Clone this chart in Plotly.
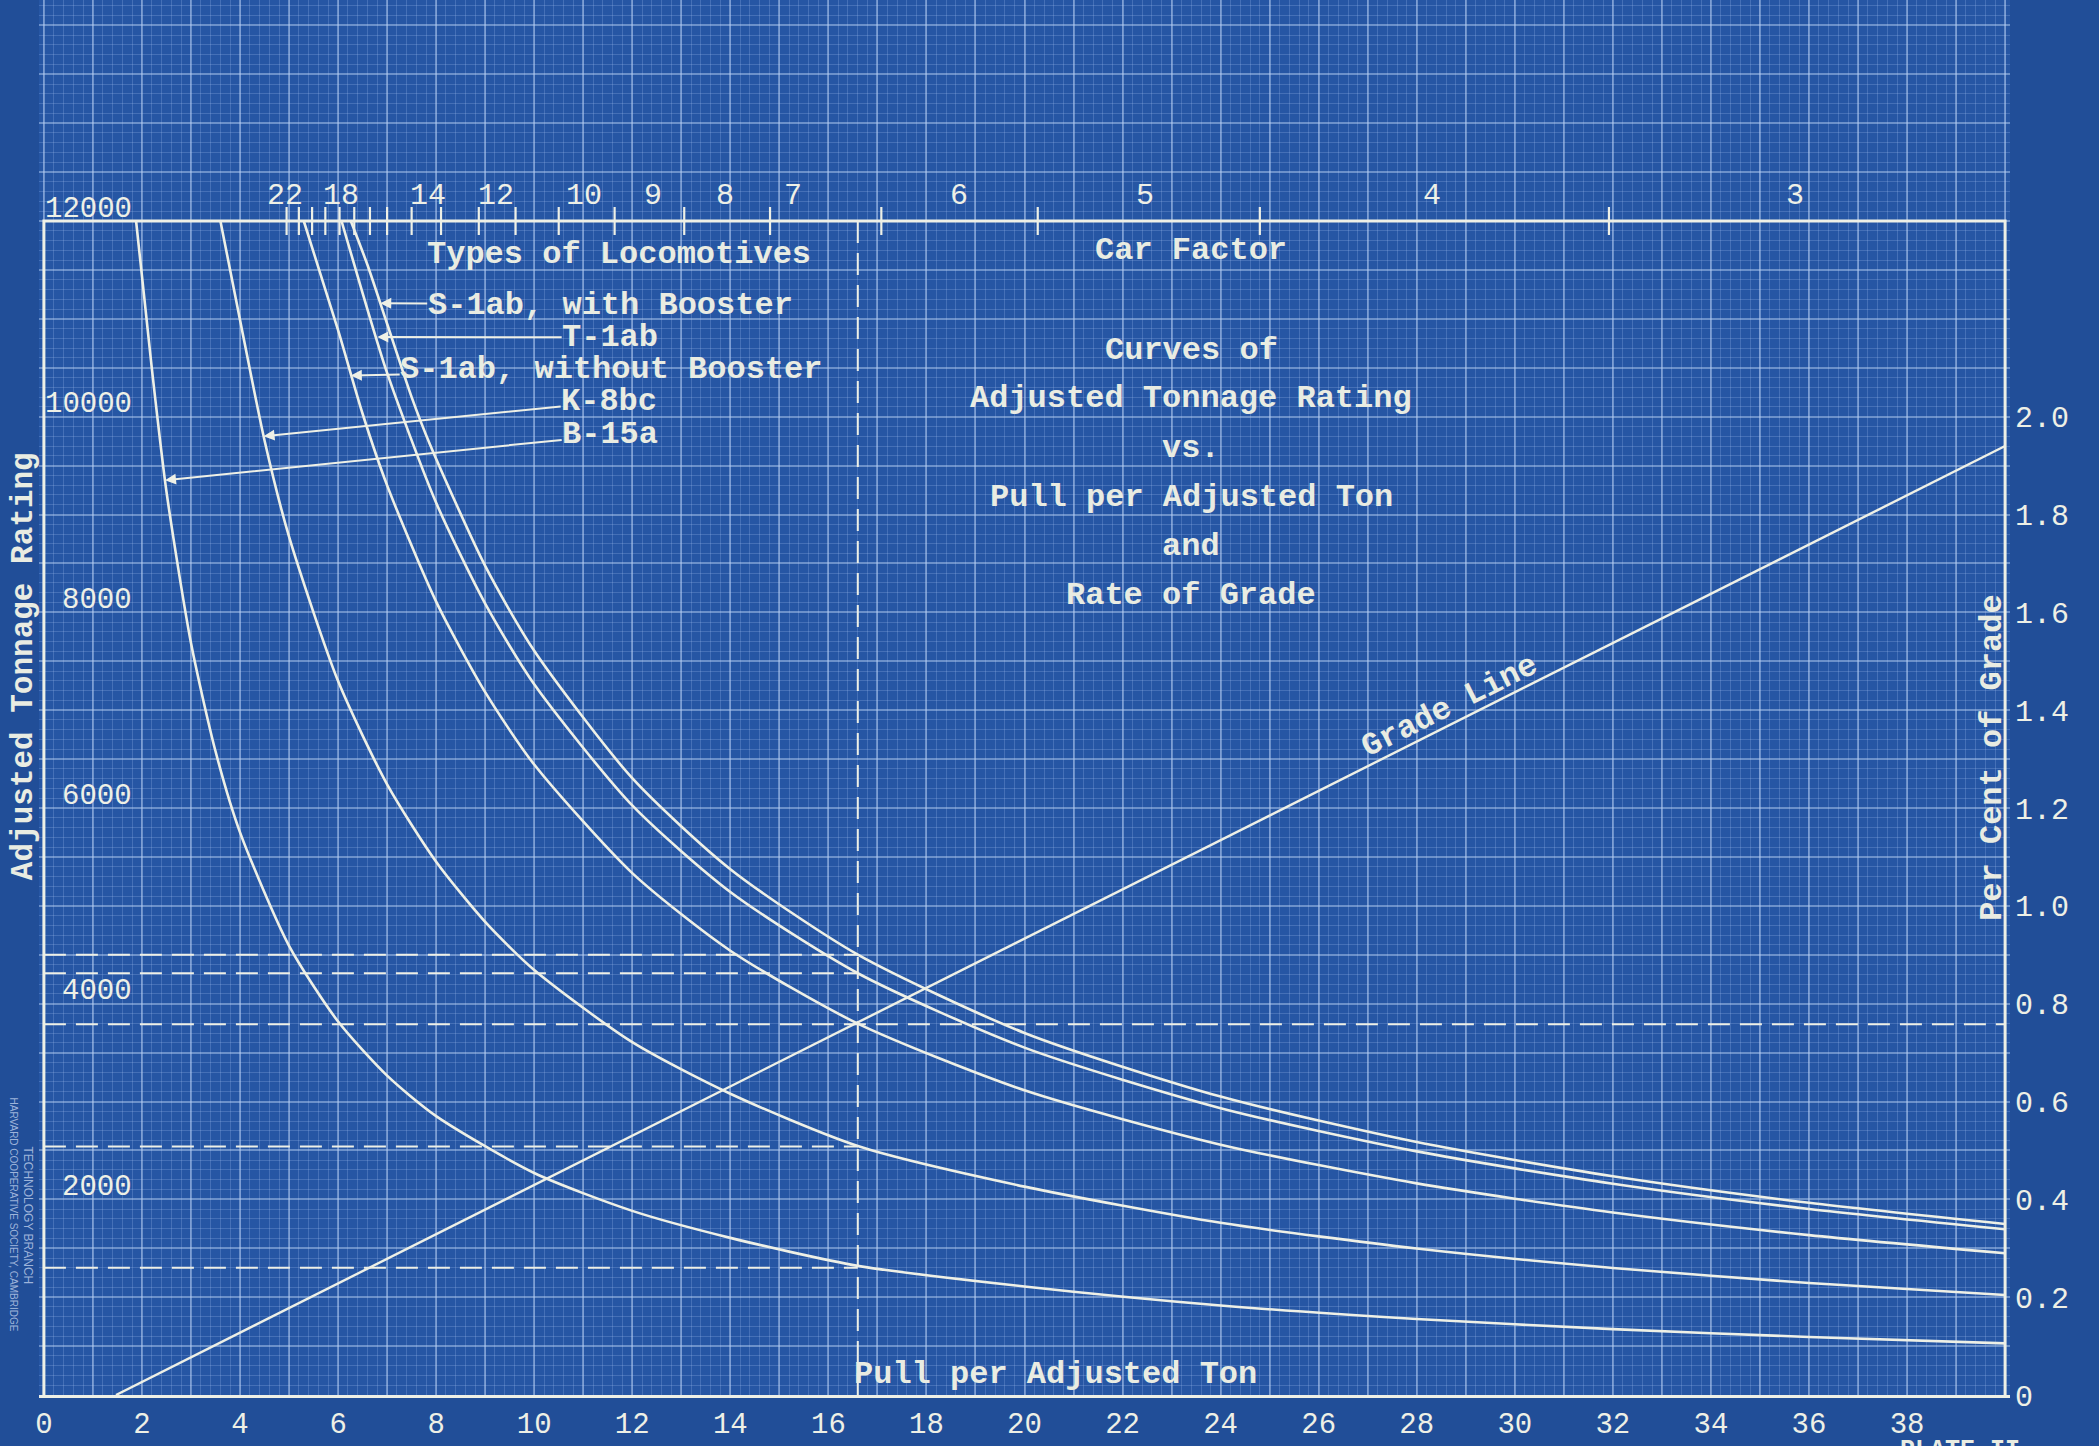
import plotly.graph_objects as go

# ---------------- data ----------------
# Pull per adjusted ton (lb/ton) vs adjusted tonnage rating
sw_pull = [6.26, 6.60, 7.00, 7.50, 7.87, 9.0, 10.0, 12.0, 14.0, 16.6, 20.0, 24.0, 28.0, 32.0, 36.0, 40.0]
sw_ton = [12000, 11550, 10950, 10200, 9721, 8475, 7607, 6305, 5375, 4501, 3701, 3050, 2585, 2236, 1965, 1748]

t_pull = [6.07, 6.5, 7.0, 8.0, 9.0, 10.0, 12.0, 14.0, 16.6, 20.0, 24.0, 28.0, 32.0, 36.0, 40.0]
t_ton = [12000, 11263, 10447, 9120, 8089, 7264, 6026, 5142, 4311, 3551, 2932, 2490, 2159, 1901, 1694]

swo_pull = [5.30, 6.0, 6.5, 7.0, 8.0, 9.0, 10.0, 12.0, 14.0, 16.6, 20.0, 24.0, 28.0, 32.0, 36.0, 40.0]
swo_ton = [12000, 10884, 10030, 9298, 8109, 7184, 6444, 5334, 4541, 3796, 3114, 2559, 2163, 1865, 1634, 1449]

k_pull = [3.60, 4.0, 4.5, 5.0, 6.0, 7.0, 8.0, 9.0, 10.0, 12.0, 14.0, 16.6, 20.0, 24.0, 28.0, 32.0, 36.0, 40.0]
k_ton = [12000, 10988, 9757, 8773, 7297, 6242, 5451, 4836, 4344, 3606, 3079, 2545, 2130, 1760, 1497, 1299, 1145, 1022]

b_pull = [1.88, 2.2, 2.5, 3.0, 3.5, 4.0, 5.0, 6.0, 7.0, 8.0, 10.0, 12.0, 14.0, 16.6, 20.0, 24.0, 28.0, 32.0, 36.0, 40.0]
b_ton = [12000, 10499, 9233, 7686, 6580, 5751, 4591, 3817, 3264, 2850, 2269, 1882, 1606, 1320, 1109, 915, 777, 673, 593, 528]

# Grade line: pull per ton vs per cent of grade
grade_pull = [1.47, 40.0]
grade_pct = [0.0, 1.94]

# Reference (dashed) construction lines
ref_pull = 16.6
ref_tons = [4501, 4311, 3790, 2540, 1300]
ref_ends = [16.6, 16.6, 40.0, 16.6, 16.6]

# Car factor scale along the top
cf_tick_pull = [4.95, 5.20, 5.47, 5.74, 6.03, 6.33, 6.65, 7.00, 7.50, 8.10, 8.87, 9.62,
                10.50, 11.64, 13.06, 14.81, 17.08, 20.27, 24.80, 31.92]
cf_labels = ["22", "18", "14", "12", "10", "9", "8", "7", "6", "5", "4", "3"]
cf_label_pull = [4.92, 6.05, 7.83, 9.23, 11.02, 12.42, 13.89, 15.27, 18.67, 22.46, 28.31, 35.71]

x_ticks = list(range(0, 41))
x_ticktext = [str(v) if (v % 2 == 0 and v < 40) else "" for v in x_ticks]
left_vals = [2000, 4000, 6000, 8000, 10000, 12000]
right_vals = [0, 0.2, 0.4, 0.6, 0.8, 1.0, 1.2, 1.4, 1.6, 1.8, 2.0]
right_text = ["0", "0.2", "0.4", "0.6", "0.8", "1.0", "1.2", "1.4", "1.6", "1.8", "2.0"]

# ---------------- styling ----------------
INK = "#eef0e6"
TYPE_INK = "#e9ece2"
FONT = "Liberation Mono, Courier New, DejaVu Sans Mono, monospace"
BG = "#2656a4"
PAPER = "#214e98"
GRID = "rgba(185,208,245,0.48)"
MINOR = "rgba(165,192,240,0.25)"
FAINT = "rgba(200,215,240,0.75)"

Y_TOP = 14259          # graph paper continues above the 12000 border
PCT_TOP = 2.4 * Y_TOP / 12000.0


def typed(s):
    return "<b>" + s + "</b>"


fig = go.Figure()

curves = [
    ("S-1ab, with Booster", sw_pull, sw_ton),
    ("T-1ab", t_pull, t_ton),
    ("S-1ab, without Booster", swo_pull, swo_ton),
    ("K-8bc", k_pull, k_ton),
    ("B-15a", b_pull, b_ton),
]
for name, xs, ys in curves:
    fig.add_trace(go.Scatter(x=xs, y=ys, mode="lines", name=name,
                             line=dict(color=INK, width=2.6, shape="spline", smoothing=0.7),
                             showlegend=False, hoverinfo="skip"))

# dashed construction lines
dash = "22px,10px"
fig.add_trace(go.Scatter(x=[ref_pull, ref_pull], y=[0, 12000], mode="lines",
                         line=dict(color=INK, width=2, dash=dash), showlegend=False, hoverinfo="skip"))
for t, e in zip(ref_tons, ref_ends):
    fig.add_trace(go.Scatter(x=[0, e], y=[t, t], mode="lines",
                             line=dict(color=INK, width=2, dash=dash), showlegend=False, hoverinfo="skip"))

# grade line on the right axis
fig.add_trace(go.Scatter(x=grade_pull, y=grade_pct, yaxis="y2", mode="lines",
                         line=dict(color=INK, width=2.4), showlegend=False, hoverinfo="skip"))

# chart border (left, top, right) at the axis limits
fig.add_trace(go.Scatter(x=[0, 0, 40, 40], y=[0, 12000, 12000, 0], mode="lines",
                         line=dict(color=INK, width=3), showlegend=False, hoverinfo="skip"))

# car factor tick marks across the top border
fig.add_trace(go.Scatter(x=cf_tick_pull, y=[12000] * len(cf_tick_pull), mode="markers",
                         marker=dict(symbol="line-ns", size=20, line=dict(color=INK, width=2.2)),
                         cliponaxis=False, showlegend=False, hoverinfo="skip"))

ann = []
for lab, xv in zip(cf_labels, cf_label_pull):
    ann.append(dict(x=xv, y=12000, xref="x", yref="y", text=lab, showarrow=False,
                    yshift=25, font=dict(family=FONT, size=30, color=INK)))
for v in left_vals:
    ann.append(dict(x=1.84, y=v, xref="x", yref="y", text=str(v), showarrow=False,
                    xanchor="right", yshift=12, font=dict(family=FONT, size=29, color=INK)))

leg = [
    ("S-1ab, with Booster", 6.86, 11160, 11.55, 11140),
    ("T-1ab", 6.80, 10815, 11.55, 10811),
    ("S-1ab, without Booster", 6.26, 10420, 11.57, 10483),
    ("K-8bc", 4.48, 9800, 11.53, 10154),
    ("B-15a", 2.47, 9350, 11.55, 9813),
]
for txt, xt, yt, xa, ya in leg:
    ann.append(dict(x=xt, y=yt, ax=xa, ay=ya, xref="x", yref="y", axref="x", ayref="y",
                    text=typed(txt), showarrow=True, arrowhead=2, arrowsize=1.1, arrowwidth=2,
                    arrowcolor=INK, borderpad=0, font=dict(family=FONT, size=32, color=TYPE_INK)))
ann.append(dict(x=11.72, y=11660, xref="x", yref="y", text=typed("Types of Locomotives"),
                showarrow=False, font=dict(family=FONT, size=32, color=TYPE_INK)))

title_lines = [("Car Factor", 11701), ("Curves of", 10674), ("Adjusted Tonnage Rating", 10182),
               ("vs.", 9675), ("Pull per Adjusted Ton", 9169), ("and", 8676), ("Rate of Grade", 8170)]
for txt, yv in title_lines:
    ann.append(dict(x=23.4, y=yv, xref="x", yref="y", text=typed(txt), showarrow=False,
                    font=dict(family=FONT, size=32, color=TYPE_INK)))

ann.append(dict(x=28.67, y=7033, xref="x", yref="y", text=typed("Grade Line"), showarrow=False,
                textangle=-26.7, font=dict(family=FONT, size=32, color=TYPE_INK)))
ann.append(dict(x=20.64, y=206, xref="x", yref="y", text=typed("Pull per Adjusted Ton"),
                showarrow=False, font=dict(family=FONT, size=32, color=TYPE_INK)))
ann.append(dict(x=39.73, y=6511, xref="x", yref="y", text=typed("Per Cent of Grade"),
                xanchor="center", showarrow=False, textangle=-90,
                font=dict(family=FONT, size=32, color=TYPE_INK)))
# texts in the left margin / bottom edge (paper coordinates so they are not hidden)
ann.append(dict(x=-0.0081, y=7450, xref="paper", yref="y", text=typed("Adjusted Tonnage Rating"),
                xanchor="center", yanchor="middle", showarrow=False, textangle=-90,
                font=dict(family=FONT, size=31, color=TYPE_INK)))
ann.append(dict(x=-0.0058, y=1840, xref="paper", yref="y", text="TECHNOLOGY BRANCH",
                xanchor="center", yanchor="middle", showarrow=False, textangle=90,
                font=dict(family="Liberation Sans", size=12, color=FAINT)))
ann.append(dict(x=-0.0130, y=1840, xref="paper", yref="y", text="HARVARD COOPERATIVE SOCIETY, CAMBRIDGE",
                xanchor="center", yanchor="middle", showarrow=False, textangle=90,
                font=dict(family="Liberation Sans", size=10, color=FAINT)))
ann.append(dict(x=0.9745, y=-0.0285, xref="paper", yref="paper", text=typed("PLATE II"),
                xanchor="center", yanchor="top", showarrow=False, borderpad=0,
                font=dict(family=FONT, size=25, color=TYPE_INK)))

fig.update_layout(
    width=2099, height=1446,
    margin=dict(l=39, r=89, t=0, b=51, autoexpand=False),
    paper_bgcolor=PAPER, plot_bgcolor=BG,
    hovermode=False,
    annotations=ann,
    xaxis=dict(range=[-0.1, 40.1], tickmode="array", tickvals=x_ticks, ticktext=x_ticktext,
               showgrid=True, gridcolor=GRID, gridwidth=1.5, zeroline=False,
               minor=dict(tickmode="linear", tick0=0, dtick=0.2, showgrid=True,
                          gridcolor=MINOR, gridwidth=1),
               showline=True, linecolor=INK, linewidth=3, ticks="", automargin=False,
               ticklabelstandoff=0,
               tickfont=dict(family=FONT, size=29, color=INK)),
    yaxis=dict(range=[0, Y_TOP], tickmode="linear", tick0=0, dtick=500, showticklabels=False,
               showgrid=True, gridcolor=GRID, gridwidth=1.5, zeroline=False, automargin=False,
               minor=dict(tickmode="linear", tick0=0, dtick=100, showgrid=True,
                          gridcolor=MINOR, gridwidth=1),
               showline=False, ticks=""),
    yaxis2=dict(range=[0, PCT_TOP], overlaying="y", side="right", tickmode="array",
                tickvals=right_vals, ticktext=right_text, showgrid=False, zeroline=False,
                showline=False, ticks="", ticklabelstandoff=4, automargin=False,
                tickfont=dict(family=FONT, size=30, color=INK)),
)

fig.write_html(
    "out.html",
    config={"displayModeBar": False},
    post_script="document.body.style.margin='0px';document.body.style.background='" + PAPER + "';",
)
